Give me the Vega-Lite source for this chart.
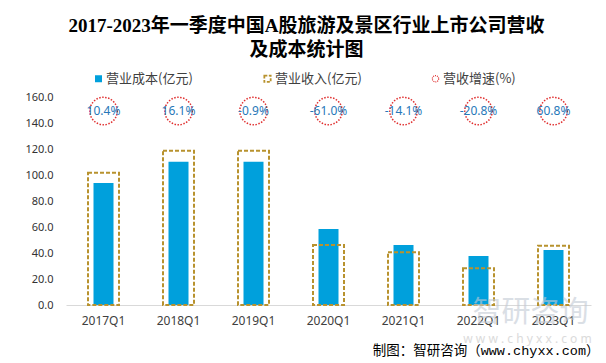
{
  "$schema": "https://vega.github.io/schema/vega-lite/v6.json",
  "width": 525,
  "height": 208,
  "autosize": {"type": "none"},
  "padding": {"left": 66, "top": 97, "right": 15, "bottom": 58},
  "background": "white",
  "config": {
    "view": {"stroke": null},
    "font": "Noto Sans CJK SC",
    "axisY": {
      "title": null,
      "domain": false,
      "ticks": false,
      "grid": false,
      "labelFont": "Noto Sans",
      "labelFontSize": 11,
      "labelColor": "#333333",
      "labelPadding": 13
    }
  },
  "title": {
    "text": ["2017-2023年一季度中国A股旅游及景区行业上市公司营收", "及成本统计图"],
    "anchor": "middle",
    "frame": "group",
    "dx": -22,
    "font": "Liberation Serif, Noto Sans CJK SC",
    "fontSize": 19,
    "fontWeight": "bold",
    "color": "#000000",
    "lineHeight": 24,
    "offset": 12
  },
  "data": {
    "values": [
      {"quarter": "2017Q1", "cost": 93.8, "revenue": 101.8, "growth": "10.4%"},
      {"quarter": "2018Q1", "cost": 110.2, "revenue": 118.7, "growth": "16.1%"},
      {"quarter": "2019Q1", "cost": 110.2, "revenue": 118.7, "growth": "-0.9%"},
      {"quarter": "2020Q1", "cost": 58.5, "revenue": 46.2, "growth": "-61.0%"},
      {"quarter": "2021Q1", "cost": 46.2, "revenue": 40.5, "growth": "-14.1%"},
      {"quarter": "2022Q1", "cost": 37.7, "revenue": 28.2, "growth": "-20.8%"},
      {"quarter": "2023Q1", "cost": 42.3, "revenue": 45.6, "growth": "60.8%"}
    ]
  },
  "encoding": {
    "x": {
      "field": "quarter",
      "type": "nominal",
      "sort": null,
      "scale": {"paddingInner": 0, "paddingOuter": 0},
      "axis": {
        "title": "制图：智研咨询（www.chyxx.com）",
        "titleX": 533,
        "titleY": 45,
        "titleAlign": "right",
        "titleBaseline": "middle",
        "titleFont": "Liberation Mono, Noto Sans CJK SC",
        "titleFontSize": 13.5,
        "titleFontWeight": "normal",
        "titleColor": "#000000",
        "labelAngle": 0,
        "labelFont": "Noto Sans",
        "labelFontSize": 12,
        "labelColor": "#404040",
        "labelPadding": 10,
        "ticks": false,
        "domainColor": "#d9d9d9",
        "domainWidth": 1
      }
    }
  },
  "layer": [
    {
      "mark": {"type": "bar", "size": 20},
      "encoding": {
        "y": {
          "field": "cost",
          "type": "quantitative",
          "scale": {"domain": [0, 160], "nice": false},
          "axis": {"title": null, "values": [0, 20, 40, 60, 80, 100, 120, 140, 160], "format": ".1f"}
        },
        "color": {
          "datum": "营业成本(亿元)",
          "scale": {
            "domain": ["营业成本(亿元)", "营业收入(亿元)", "营收增速(%)"],
            "range": ["#00A0DC", "#B8922E", "#E03030"]
          },
          "legend": {
            "orient": "none",
            "legendX": 26,
            "legendY": -25,
            "direction": "horizontal",
            "title": null,
            "symbolType": "square",
            "symbolSize": 49,
            "labelFont": "Noto Sans CJK SC",
            "labelFontSize": 13,
            "labelColor": "#404040",
            "labelOffset": 1,
            "columnPadding": 67,
            "padding": 0,
            "encode": {
              "symbols": {
                "update": {
                  "shape": {"signal": "datum.value === '营收增速(%)' ? 'circle' : 'square'"},
                  "size": {"signal": "datum.value === '营业成本(亿元)' ? 49 : 40"},
                  "fill": {"signal": "datum.value === '营业成本(亿元)' ? '#00A0DC' : 'transparent'"},
                  "fillOpacity": {"signal": "datum.value === '营业成本(亿元)' ? 1 : 0"},
                  "stroke": {"signal": "datum.value === '营业成本(亿元)' ? 'transparent' : (datum.value === '营业收入(亿元)' ? '#B8922E' : '#E03030')"},
                  "strokeDash": {"signal": "datum.value === '营业收入(亿元)' ? [3, 1.5] : [1, 1]"},
                  "strokeWidth": {"signal": "datum.value === '营业收入(亿元)' ? 1.8 : 1.2"},
                  "opacity": {"value": 1}
                }
              }
            }
          }
        }
      }
    },
    {
      "mark": {
        "type": "bar",
        "size": 31,
        "fill": "transparent",
        "stroke": "#B8922E",
        "strokeWidth": 2,
        "strokeDash": [4, 2]
      },
      "encoding": {
        "y": {
          "field": "revenue",
          "type": "quantitative",
          "scale": {"domain": [0, 160], "nice": false},
          "axis": {"title": null, "values": [0, 20, 40, 60, 80, 100, 120, 140, 160], "format": ".1f"}
        }
      }
    },
    {
      "mark": {
        "type": "point",
        "shape": "circle",
        "size": 755,
        "filled": false,
        "stroke": "#E03030",
        "strokeWidth": 1.5,
        "strokeDash": [1.5, 1.5],
        "opacity": 1
      },
      "encoding": {
        "y": {
          "datum": 149.2,
          "type": "quantitative",
          "scale": {"domain": [0, 160], "nice": false},
          "axis": {"title": null, "values": [0, 20, 40, 60, 80, 100, 120, 140, 160], "format": ".1f"}
        }
      }
    },
    {
      "mark": {
        "type": "text",
        "font": "Noto Sans",
        "fontSize": 12,
        "color": "#2878B8",
        "align": "center",
        "baseline": "middle"
      },
      "encoding": {
        "y": {
          "datum": 149.2,
          "type": "quantitative",
          "scale": {"domain": [0, 160], "nice": false},
          "axis": {"title": null, "values": [0, 20, 40, 60, 80, 100, 120, 140, 160], "format": ".1f"}
        },
        "text": {"field": "growth"}
      }
    },
    {
      "data": {"values": [{"wm": "智研咨询"}]},
      "mark": {
        "type": "text",
        "font": "Noto Sans CJK SC",
        "fontSize": 29,
        "color": "#c3cad4",
        "opacity": 0.6,
        "align": "center",
        "baseline": "middle",
        "dx": -23,
        "dy": 8
      },
      "encoding": {
        "x": {"datum": "2023Q1"},
        "y": {
          "datum": 0,
          "type": "quantitative",
          "scale": {"domain": [0, 160], "nice": false},
          "axis": {"title": null, "values": [0, 20, 40, 60, 80, 100, 120, 140, 160], "format": ".1f"}
        },
        "text": {"field": "wm"}
      }
    },
    {
      "data": {"values": [{"wm": "w w w . c h y x x . c o m"}]},
      "mark": {
        "type": "text",
        "font": "Noto Sans",
        "fontSize": 12,
        "color": "#cccccc",
        "opacity": 0.7,
        "align": "center",
        "baseline": "middle",
        "dx": -26,
        "dy": 34
      },
      "encoding": {
        "x": {"datum": "2023Q1"},
        "y": {
          "datum": 0,
          "type": "quantitative",
          "scale": {"domain": [0, 160], "nice": false},
          "axis": {"title": null, "values": [0, 20, 40, 60, 80, 100, 120, 140, 160], "format": ".1f"}
        },
        "text": {"field": "wm"}
      }
    }
  ]
}
